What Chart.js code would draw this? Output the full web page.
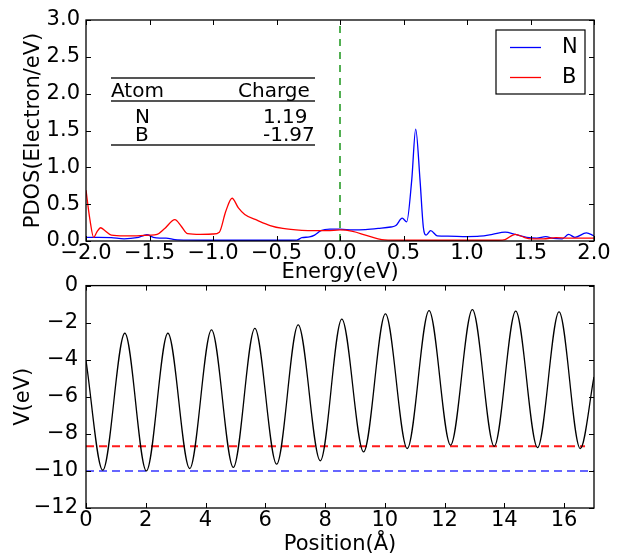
<!DOCTYPE html>
<html>
<head>
<meta charset="utf-8">
<script src="https://cdn.jsdelivr.net/npm/chart.js@4"></script>
<style>
  html, body { margin: 0; padding: 0; background: #fff; }
  #wrap { position: relative; width: 621px; height: 557px; overflow: hidden; }
  canvas { position: absolute; left: 0; }
  #pdosChart { top: 0; }
  #potChart { top: 265px; }
</style>
</head>
<body>
<div id="wrap">
  <canvas id="pdosChart" width="621" height="290"></canvas>
  <canvas id="potChart" width="621" height="292"></canvas>
</div>
<script>
var FONT = "'DejaVu Sans', sans-serif";

// top panel: projected DOS
var nEnergy = [-2.0, -1.9, -1.8, -1.7, -1.6, -1.52, -1.47, -1.42, -1.37, -1.3, -1.2, -1.0, -0.8, -0.6, -0.4, -0.34, -0.3, -0.24, -0.2, -0.15, -0.08, 0.0, 0.1, 0.2, 0.3, 0.4, 0.44, 0.49, 0.525, 0.565, 0.596, 0.63, 0.656, 0.678, 0.714, 0.766, 0.85, 1.0, 1.1, 1.2, 1.3, 1.38, 1.47, 1.55, 1.62, 1.68, 1.75, 1.8, 1.85, 1.94, 2.0];
var nPdos = [0.05, 0.05, 0.045, 0.03, 0.045, 0.085, 0.05, 0.04, 0.04, 0.02, 0.012, 0.01, 0.01, 0.01, 0.01, 0.012, 0.045, 0.055, 0.08, 0.14, 0.16, 0.16, 0.15, 0.155, 0.17, 0.19, 0.21, 0.31, 0.26, 0.83, 1.52, 0.83, 0.19, 0.08, 0.14, 0.07, 0.065, 0.06, 0.065, 0.09, 0.12, 0.09, 0.05, 0.04, 0.06, 0.035, 0.03, 0.09, 0.05, 0.11, 0.07];
var bEnergy = [-2.0, -1.97, -1.94, -1.915, -1.885, -1.85, -1.8, -1.7, -1.6, -1.5, -1.44, -1.38, -1.3, -1.25, -1.2, -1.1, -1.0, -0.95, -0.9, -0.85, -0.8, -0.75, -0.65, -0.55, -0.45, -0.3, -0.2, -0.1, 0.0, 0.1, 0.2, 0.3, 0.35, 0.5, 0.8, 1.0, 1.25, 1.3, 1.38, 1.45, 1.5, 1.6, 1.7, 1.8, 2.0];
var bPdos = [0.69, 0.3, 0.05, 0.12, 0.18, 0.14, 0.08, 0.07, 0.07, 0.08, 0.09, 0.17, 0.29, 0.2, 0.1, 0.09, 0.095, 0.12, 0.4, 0.58, 0.45, 0.36, 0.28, 0.21, 0.17, 0.145, 0.14, 0.14, 0.15, 0.13, 0.08, 0.03, 0.015, 0.01, 0.01, 0.01, 0.01, 0.02, 0.09, 0.05, 0.03, 0.03, 0.045, 0.04, 0.04];
var fermiEnergy = 0;
var energyTicks = [-2, -1.5, -1, -0.5, 0, 0.5, 1, 1.5, 2];
var pdosTicks = [0, 0.5, 1, 1.5, 2, 2.5, 3];
var atoms = ["N", "B"];
var charges = ["1.19", "-1.97"];

// bottom panel: planar averaged potential
var position = [0, 0.56, 1.30, 2.02, 2.74, 3.47, 4.20, 4.93, 5.65, 6.38, 7.10, 7.84, 8.56, 9.29, 10.02, 10.75, 11.48, 12.20, 12.93, 13.66, 14.38, 15.11, 15.83, 16.54, 17.0];
var potential = [-4.04, -9.96, -2.57, -10.0, -2.57, -9.87, -2.39, -9.81, -2.31, -9.63, -2.12, -9.45, -1.81, -8.97, -1.53, -8.79, -1.35, -8.61, -1.30, -8.67, -1.38, -8.74, -1.42, -8.79, -4.93];
var nLevel = -10.0;
var bLevel = -8.67;
var positionTicks = [0, 2, 4, 6, 8, 10, 12, 14, 16];
var potentialTicks = [-12, -10, -8, -6, -4, -2, 0];

function toPoints(xs, ys) {
  return xs.map(function (x, i) { return { x: x, y: ys[i] }; });
}

function minus(s) { return String(s).replace("-", "\u2212"); }

function fixTicks(list) {
  return function (scale) { scale.ticks = list.map(function (v) { return { value: v }; }); };
}

var mplFrame = {
  id: "mplFrame",
  afterDatasetsDraw: function (chart) {
    var a = chart.chartArea, ctx = chart.ctx, len = 5;
    var xs = chart.scales.x, ys = chart.scales.y;
    ctx.save();
    ctx.strokeStyle = "#000";
    ctx.lineWidth = 1;
    ctx.beginPath();
    xs.ticks.forEach(function (t) {
      var px = Math.round(xs.getPixelForValue(t.value)) + 0.5;
      ctx.moveTo(px, a.bottom); ctx.lineTo(px, a.bottom - len);
      ctx.moveTo(px, a.top); ctx.lineTo(px, a.top + len);
    });
    ys.ticks.forEach(function (t) {
      var py = Math.round(ys.getPixelForValue(t.value)) + 0.5;
      ctx.moveTo(a.left, py); ctx.lineTo(a.left + len, py);
      ctx.moveTo(a.right, py); ctx.lineTo(a.right - len, py);
    });
    ctx.stroke();
    ctx.lineWidth = 1.3;
    ctx.strokeRect(a.left, a.top, a.right - a.left, a.bottom - a.top);
    ctx.restore();
  }
};

var pdosExtras = {
  id: "pdosExtras",
  afterDraw: function (chart) {
    var ctx = chart.ctx;
    ctx.save();
    // legend
    ctx.strokeStyle = "#000";
    ctx.lineWidth = 1.2;
    ctx.strokeRect(496, 30, 89, 64);
    ctx.font = "21px " + FONT;
    ctx.fillStyle = "#000";
    ctx.textBaseline = "middle";
    ctx.textAlign = "left";
    [chart.data.datasets[0], chart.data.datasets[1]].forEach(function (ds, i) {
      var y = 47 + i * 30;
      ctx.strokeStyle = ds.borderColor;
      ctx.lineWidth = 1.3;
      ctx.beginPath();
      ctx.moveTo(510, y + 0.5); ctx.lineTo(541, y + 0.5);
      ctx.stroke();
      ctx.fillText(ds.label, 562, y + 1);
    });
    // charge table
    ctx.strokeStyle = "#555";
    ctx.lineWidth = 2;
    ctx.beginPath();
    [78, 101, 145].forEach(function (y) { ctx.moveTo(111, y); ctx.lineTo(315, y); });
    ctx.stroke();
    ctx.font = "20px " + FONT;
    ctx.textBaseline = "alphabetic";
    ctx.fillText("Atom", 111, 97);
    ctx.fillText("Charge", 238, 97);
    atoms.forEach(function (atom, i) {
      var y = 123 + i * 18;
      ctx.fillText(atom, 135, y);
      ctx.fillText(charges[i], 263, y);
    });
    ctx.restore();
  }
};

function axisFont() { return { family: FONT, size: 21 }; }

new Chart(document.getElementById("pdosChart"), {
  type: "line",
  data: {
    datasets: [
      { label: "N", data: toPoints(nEnergy, nPdos), borderColor: "#0000ff", borderWidth: 1.3, pointRadius: 0, cubicInterpolationMode: "monotone", order: 2 },
      { label: "B", data: toPoints(bEnergy, bPdos), borderColor: "#ff0000", borderWidth: 1.3, pointRadius: 0, cubicInterpolationMode: "monotone", order: 1 },
      { label: "Ef", data: [{ x: fermiEnergy, y: 0 }, { x: fermiEnergy, y: 3 }], borderColor: "#1a951a", borderWidth: 1.5, borderDash: [7, 6], pointRadius: 0, order: 0 }
    ]
  },
  options: {
    responsive: false,
    animation: false,
    layout: { padding: { left: 0, right: 27, top: 20, bottom: 0 } },
    plugins: { legend: { display: false }, tooltip: { enabled: false } },
    scales: {
      x: {
        type: "linear", min: -2, max: 2,
        afterBuildTicks: fixTicks(energyTicks),
        afterFit: function (s) { s.height = 49; },
        grid: { display: false, drawTicks: false },
        border: { display: false },
        ticks: { color: "#000", font: axisFont(), padding: 0, maxRotation: 0, autoSkip: false, callback: function (v) { return minus(v.toFixed(1)); } },
        title: { display: true, text: "Energy(eV)", color: "#000", font: axisFont(), padding: { top: 0, bottom: 5 } }
      },
      y: {
        min: 0, max: 3,
        afterBuildTicks: fixTicks(pdosTicks),
        afterFit: function (s) { s.width = 86; },
        grid: { display: false, drawTicks: false },
        border: { display: false },
        ticks: { color: "#000", font: axisFont(), padding: 6, autoSkip: false, callback: function (v) { return minus(v.toFixed(1)); } },
        title: { display: true, text: "PDOS(Electron/eV)", color: "#000", font: axisFont(), padding: { top: 21, bottom: 0 } }
      }
    }
  },
  plugins: [mplFrame, pdosExtras]
});

new Chart(document.getElementById("potChart"), {
  type: "line",
  data: {
    datasets: [
      { label: "V", data: toPoints(position, potential), borderColor: "#000", borderWidth: 1.3, pointRadius: 0, cubicInterpolationMode: "monotone" },
      { label: "B level", data: [{ x: 0, y: bLevel }, { x: 16.7, y: bLevel }], borderColor: "#ff1a1a", borderWidth: 2, borderDash: [8, 5], pointRadius: 0 },
      { label: "N level", data: [{ x: 0, y: nLevel }, { x: 17, y: nLevel }], borderColor: "rgba(0,0,255,0.6)", borderWidth: 2, borderDash: [8, 5], pointRadius: 0 }
    ]
  },
  options: {
    responsive: false,
    animation: false,
    layout: { padding: { left: 0, right: 27, top: 20, bottom: 0 } },
    plugins: { legend: { display: false }, tooltip: { enabled: false } },
    scales: {
      x: {
        type: "linear", min: 0, max: 17,
        afterBuildTicks: fixTicks(positionTicks),
        afterFit: function (s) { s.height = 49; },
        grid: { display: false, drawTicks: false },
        border: { display: false },
        ticks: { color: "#000", font: axisFont(), padding: 0, maxRotation: 0, autoSkip: false, callback: function (v) { return minus(v); } },
        title: { display: true, text: "Position(\u00c5)", color: "#000", font: axisFont(), padding: { top: 0, bottom: 0 } }
      },
      y: {
        min: -12, max: 0,
        afterBuildTicks: fixTicks(potentialTicks),
        afterFit: function (s) { s.width = 86; },
        grid: { display: false, drawTicks: false },
        border: { display: false },
        ticks: { color: "#000", font: axisFont(), padding: 8, autoSkip: false, callback: function (v) { return minus(v); } },
        title: { display: true, text: "V(eV)", color: "#000", font: axisFont(), padding: { top: 11, bottom: 0 } }
      }
    }
  },
  plugins: [mplFrame]
});
</script>
</body>
</html>
